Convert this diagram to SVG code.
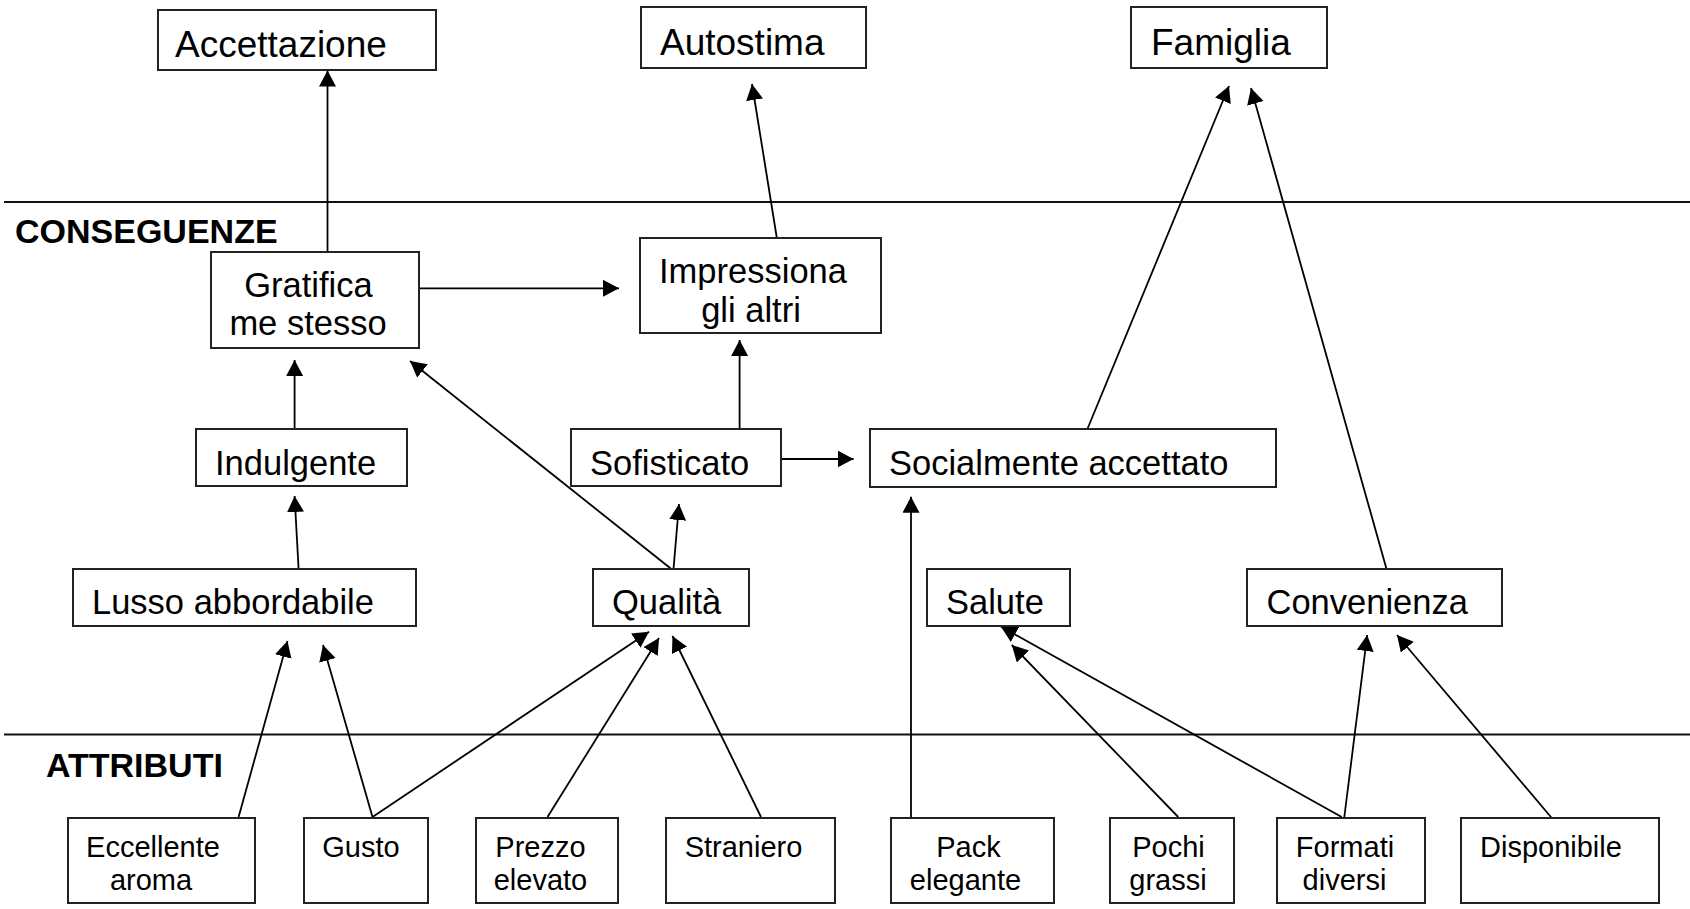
<svg xmlns="http://www.w3.org/2000/svg" width="1690" height="909" viewBox="0 0 1690 909">
<defs>
<marker id="ah" markerUnits="userSpaceOnUse" markerWidth="17" markerHeight="18" refX="16" refY="8.5" orient="auto">
<path d="M0,0 L16,8.5 L0,17 z" fill="#000"/>
</marker>
</defs>
<style>
rect{fill:#fff;stroke:#222;stroke-width:2}
text{font-family:"Liberation Sans",Arial,sans-serif;fill:#000}
.t{font-size:37px}
.m{font-size:34.5px}
.b{font-size:29px}
.c{text-anchor:middle}
.lab{font-size:34px;font-weight:bold}
.sep{stroke:#111;stroke-width:1.8}
.cn line{stroke:#000;stroke-width:1.8;fill:none}
.cn .a{marker-end:url(#ah)}
</style>
<rect x="0" y="0" width="1690" height="909" style="fill:#fff;stroke:none"/>
<line class="sep" x1="4" y1="202" x2="1690" y2="202"/>
<line class="sep" x1="4" y1="734.5" x2="1690" y2="734.5"/>
<text class="lab" x="15" y="243">CONSEGUENZE</text>
<text class="lab" x="46" y="777">ATTRIBUTI</text>
<g class="cn" id="connectors">
<line class="a" x1="327.5" y1="257" x2="327.5" y2="70.5"/>
<line class="a" x1="419" y1="288.3" x2="619" y2="288.3"/>
<line class="a" x1="777" y1="239" x2="752" y2="84"/>
<line class="a" x1="294.6" y1="429" x2="294.6" y2="360"/>
<line class="a" x1="298.6" y1="569" x2="294.6" y2="496"/>
<line class="a" x1="670.7" y1="568.5" x2="410" y2="361"/>
<line class="a" x1="673.6" y1="568" x2="679" y2="504"/>
<line class="a" x1="739.6" y1="429" x2="739.6" y2="340"/>
<line class="a" x1="781" y1="459" x2="853.6" y2="459"/>
<line class="a" x1="1087" y1="430" x2="1229" y2="86"/>
<line class="a" x1="1386.4" y1="568.5" x2="1251" y2="88"/>
<line class="a" x1="238.6" y1="817" x2="287.5" y2="641"/>
<line class="a" x1="372.5" y1="817" x2="323" y2="645"/>
<line class="a" x1="372.5" y1="817" x2="649" y2="631.7"/>
<line class="a" x1="547.5" y1="817" x2="659" y2="638"/>
<line class="a" x1="761" y1="817" x2="672.5" y2="636"/>
<line class="a" x1="911" y1="817" x2="911" y2="496.7"/>
<line class="a" x1="1178.2" y1="817" x2="1011.8" y2="645"/>
<line class="a" x1="1341.7" y1="817" x2="1001" y2="626.7"/>
<line class="a" x1="1344.3" y1="817" x2="1367.2" y2="635"/>
<line class="a" x1="1552.6" y1="819" x2="1397" y2="635"/>
</g>
<g id="accettazione"><rect x="158" y="10" width="278" height="60"/><text class="t" x="175" y="57">Accettazione</text></g>
<g id="autostima"><rect x="641" y="7" width="225" height="61"/><text class="t" x="660" y="55">Autostima</text></g>
<g id="famiglia"><rect x="1131" y="7" width="196" height="61"/><text class="t" x="1151" y="55">Famiglia</text></g>
<g id="gratifica"><rect x="211" y="252" width="208" height="96"/><text class="m c" x="308.5" y="297">Gratifica</text><text class="m c" x="308" y="335">me stesso</text></g>
<g id="impressiona"><rect x="640" y="238" width="241" height="95"/><text class="m c" x="753" y="283">Impressiona</text><text class="m c" x="751" y="322">gli altri</text></g>
<g id="indulgente"><rect x="196" y="429" width="211" height="57"/><text class="m" x="215" y="475">Indulgente</text></g>
<g id="sofisticato"><rect x="571" y="429" width="210" height="57"/><text class="m" x="590" y="475">Sofisticato</text></g>
<g id="socialmente"><rect x="870" y="429" width="406" height="58"/><text class="m" x="889" y="475">Socialmente accettato</text></g>
<g id="lusso"><rect x="73" y="569" width="343" height="57"/><text class="m" x="92" y="614">Lusso abbordabile</text></g>
<g id="qualita"><rect x="593" y="569" width="156" height="57"/><text class="m" x="612" y="614">Qualità</text></g>
<g id="salute"><rect x="927" y="569" width="143" height="57"/><text class="m" x="946" y="614">Salute</text></g>
<g id="convenienza"><rect x="1247" y="569" width="255" height="57"/><text class="m" x="1266.5" y="614">Convenienza</text></g>
<g id="eccellente"><rect x="68" y="818" width="187" height="85"/><text class="b c" x="153" y="857">Eccellente</text><text class="b c" x="151" y="890">aroma</text></g>
<g id="gusto"><rect x="304" y="818" width="124" height="85"/><text class="b c" x="361" y="857">Gusto</text></g>
<g id="prezzo"><rect x="476" y="818" width="142" height="85"/><text class="b c" x="540.5" y="857">Prezzo</text><text class="b c" x="540.5" y="890">elevato</text></g>
<g id="straniero"><rect x="666" y="818" width="169" height="85"/><text class="b c" x="743.5" y="857">Straniero</text></g>
<g id="pack"><rect x="891" y="818" width="163" height="85"/><text class="b c" x="968.5" y="857">Pack</text><text class="b c" x="965.5" y="890">elegante</text></g>
<g id="pochi"><rect x="1110" y="818" width="124" height="85"/><text class="b c" x="1168.5" y="857">Pochi</text><text class="b c" x="1168" y="890">grassi</text></g>
<g id="formati"><rect x="1277" y="818" width="148" height="85"/><text class="b c" x="1345" y="857">Formati</text><text class="b c" x="1344.5" y="890">diversi</text></g>
<g id="disponibile"><rect x="1461" y="818" width="198" height="85"/><text class="b" x="1480" y="857">Disponibile</text></g>
</svg>
